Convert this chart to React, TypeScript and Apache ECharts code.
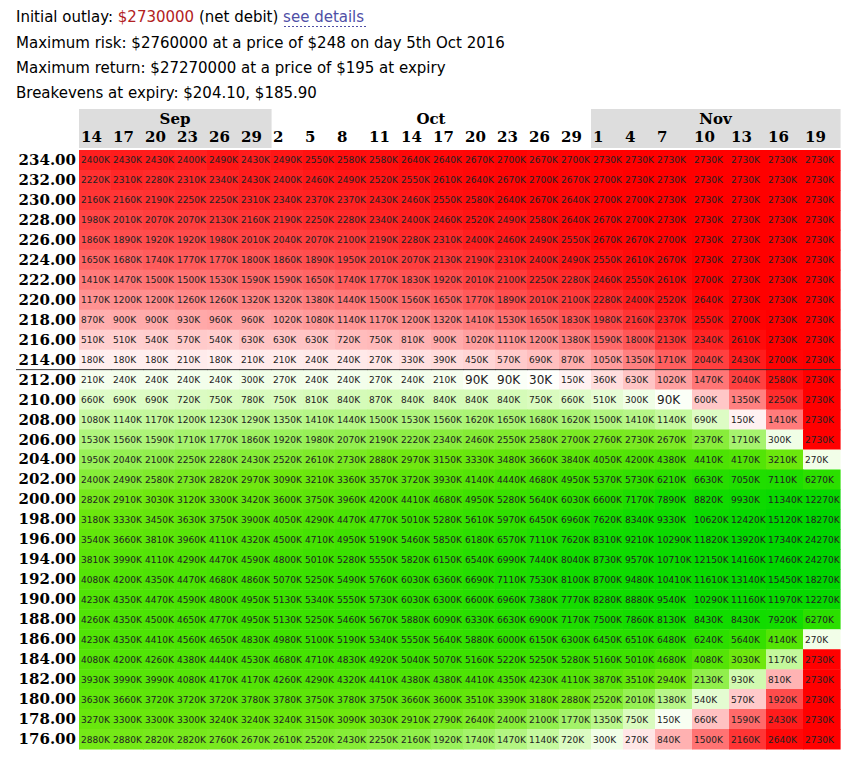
import React, { useEffect, useRef } from "react";
import * as echarts from "echarts";

// ---------- data ----------
const STRIKES = [
  "234.00", "232.00", "230.00", "228.00", "226.00", "224.00", "222.00", "220.00", "218.00", "216.00",
  "214.00", "212.00", "210.00", "208.00", "206.00", "204.00", "202.00", "200.00", "198.00", "196.00",
  "194.00", "192.00", "190.00", "188.00", "186.00", "184.00", "182.00", "180.00", "178.00", "176.00",
];
const DAYS = ["14", "17", "20", "23", "26", "29", "2", "5", "8", "11", "14", "17", "20", "23", "26", "29", "1", "4", "7", "10", "13", "16", "19"];
const MONTHS = ["Sep", "Oct", "Nov"];
const MONTH_DAY_COUNTS = [6, 10, 7];
const SHADED_MONTHS = ["Sep", "Nov"];
const CURRENT_PRICE_ROW = "212.00";

const INITIAL_OUTLAY = "$2730000";
const LINE_RISK = "Maximum risk: $2760000 at a price of $248 on day 5th Oct 2016";
const LINE_RETURN = "Maximum return: $27270000 at a price of $195 at expiry";
const LINE_BREAKEVEN = "Breakevens at expiry: $204.10, $185.90";
const MAX_LOSS_K = 2730;

// profit / loss in $K (negative = loss)
const r234 = [-2400, -2430, -2430, -2400, -2490, -2430, -2490, -2550, -2580, -2580, -2640, -2640, -2670, -2700, -2670, -2700, -2730, -2730, -2730, -2730, -2730, -2730, -2730];
const r232 = [-2220, -2310, -2280, -2310, -2340, -2430, -2400, -2460, -2490, -2520, -2550, -2610, -2640, -2670, -2700, -2670, -2700, -2730, -2730, -2730, -2730, -2730, -2730];
const r230 = [-2160, -2160, -2190, -2250, -2250, -2310, -2340, -2370, -2370, -2430, -2460, -2550, -2580, -2640, -2670, -2640, -2700, -2700, -2730, -2730, -2730, -2730, -2730];
const r228 = [-1980, -2010, -2070, -2070, -2130, -2160, -2190, -2250, -2280, -2340, -2400, -2460, -2520, -2490, -2580, -2640, -2670, -2700, -2730, -2730, -2730, -2730, -2730];
const r226 = [-1860, -1890, -1920, -1920, -1980, -2010, -2040, -2070, -2100, -2190, -2280, -2310, -2400, -2460, -2490, -2550, -2670, -2670, -2700, -2730, -2730, -2730, -2730];
const r224 = [-1650, -1680, -1740, -1770, -1770, -1800, -1860, -1890, -1950, -2010, -2070, -2130, -2190, -2310, -2400, -2490, -2550, -2610, -2670, -2730, -2730, -2730, -2730];
const r222 = [-1410, -1470, -1500, -1500, -1530, -1590, -1590, -1650, -1740, -1770, -1830, -1920, -2010, -2100, -2250, -2280, -2460, -2550, -2610, -2700, -2730, -2730, -2730];
const r220 = [-1170, -1200, -1200, -1260, -1260, -1320, -1320, -1380, -1440, -1500, -1560, -1650, -1770, -1890, -2010, -2100, -2280, -2400, -2520, -2640, -2730, -2730, -2730];
const r218 = [-870, -900, -900, -930, -960, -960, -1020, -1080, -1140, -1170, -1200, -1320, -1410, -1530, -1650, -1830, -1980, -2160, -2370, -2550, -2700, -2730, -2730];
const r216 = [-510, -510, -540, -570, -540, -630, -630, -630, -720, -750, -810, -900, -1020, -1110, -1200, -1380, -1590, -1800, -2130, -2340, -2610, -2730, -2730];
const r214 = [-180, -180, -180, -210, -180, -210, -210, -240, -240, -270, -330, -390, -450, -570, -690, -870, -1050, -1350, -1710, -2040, -2430, -2700, -2730];
const r212 = [210, 240, 240, 240, 240, 300, 270, 240, 240, 270, 240, 210, 90, 90, 30, -150, -360, -630, -1020, -1470, -2040, -2580, -2730];
const r210 = [660, 690, 690, 720, 750, 780, 750, 810, 840, 870, 840, 840, 840, 840, 750, 660, 510, 300, 90, -600, -1350, -2250, -2730];
const r208 = [1080, 1140, 1170, 1200, 1230, 1290, 1350, 1410, 1440, 1500, 1530, 1560, 1620, 1650, 1680, 1620, 1500, 1410, 1140, 690, -150, -1410, -2730];
const r206 = [1530, 1560, 1590, 1710, 1770, 1860, 1920, 1980, 2070, 2190, 2220, 2340, 2460, 2550, 2580, 2700, 2760, 2730, 2670, 2370, 1710, 300, -2730];
const r204 = [1950, 2040, 2100, 2250, 2280, 2430, 2520, 2610, 2730, 2880, 2970, 3150, 3330, 3480, 3660, 3840, 4050, 4200, 4380, 4410, 4170, 3210, 270];
const r202 = [2400, 2490, 2580, 2730, 2820, 2970, 3090, 3210, 3360, 3570, 3720, 3930, 4140, 4440, 4680, 4950, 5370, 5730, 6210, 6630, 7050, 7110, 6270];
const r200 = [2820, 2910, 3030, 3120, 3300, 3420, 3600, 3750, 3960, 4200, 4410, 4680, 4950, 5280, 5640, 6030, 6600, 7170, 7890, 8820, 9930, 11340, 12270];
const r198 = [3180, 3330, 3450, 3630, 3750, 3900, 4050, 4290, 4470, 4770, 5010, 5280, 5610, 5970, 6450, 6960, 7620, 8340, 9330, 10620, 12420, 15120, 18270];
const r196 = [3540, 3660, 3810, 3960, 4110, 4320, 4500, 4710, 4950, 5190, 5460, 5850, 6180, 6570, 7110, 7620, 8310, 9210, 10290, 11820, 13920, 17340, 24270];
const r194 = [3810, 3990, 4110, 4290, 4470, 4590, 4800, 5010, 5280, 5550, 5820, 6150, 6540, 6990, 7440, 8040, 8730, 9570, 10710, 12150, 14160, 17460, 24270];
const r192 = [4080, 4200, 4350, 4470, 4680, 4860, 5070, 5250, 5490, 5760, 6030, 6360, 6690, 7110, 7530, 8100, 8700, 9480, 10410, 11610, 13140, 15450, 18270];
const r190 = [4230, 4350, 4470, 4590, 4800, 4950, 5130, 5340, 5550, 5730, 6030, 6300, 6600, 6960, 7380, 7770, 8280, 8880, 9540, 10290, 11160, 11970, 12270];
const r188 = [4260, 4350, 4500, 4650, 4770, 4950, 5130, 5250, 5460, 5670, 5880, 6090, 6330, 6630, 6900, 7170, 7500, 7860, 8130, 8430, 8430, 7920, 6270];
const r186 = [4230, 4350, 4410, 4560, 4650, 4830, 4980, 5100, 5190, 5340, 5550, 5640, 5880, 6000, 6150, 6300, 6450, 6510, 6480, 6240, 5640, 4140, 270];
const r184 = [4080, 4200, 4260, 4380, 4440, 4530, 4680, 4710, 4830, 4920, 5040, 5070, 5160, 5220, 5250, 5280, 5160, 5010, 4680, 4080, 3030, 1170, -2730];
const r182 = [3930, 3990, 3990, 4080, 4170, 4170, 4260, 4290, 4320, 4410, 4380, 4380, 4410, 4350, 4230, 4110, 3870, 3510, 2940, 2130, 930, -810, -2730];
const r180 = [3630, 3660, 3720, 3720, 3720, 3780, 3780, 3750, 3780, 3750, 3660, 3600, 3510, 3390, 3180, 2880, 2520, 2010, 1380, 540, -570, -1920, -2730];
const r178 = [3270, 3300, 3300, 3300, 3240, 3240, 3240, 3150, 3090, 3030, 2910, 2790, 2640, 2400, 2100, 1770, 1350, 750, 150, -660, -1590, -2430, -2730];
const r176 = [2880, 2880, 2820, 2820, 2760, 2670, 2610, 2520, 2430, 2250, 2160, 1920, 1740, 1470, 1140, 720, 300, -270, -840, -1500, -2160, -2640, -2730];

const PNL_ROWS = [
  r234, r232, r230, r228, r226, r224, r222, r220, r218, r216,
  r214, r212, r210, r208, r206, r204, r202, r200, r198, r196,
  r194, r192, r190, r188, r186, r184, r182, r180, r178, r176,
];

// ---------- layout / style ----------
const COL_WIDTHS = [32, 32, 32, 32, 32, 32, 32, 32, 32, 32, 32, 32, 32, 32, 32, 32, 32, 32, 37, 37, 37, 37, 37];
const COL_EDGES: number[] = [0];
COL_WIDTHS.forEach((w, i) => COL_EDGES.push(COL_EDGES[i] + w));
const TOTAL_W = COL_EDGES[COL_EDGES.length - 1];

const PROFIT_STOPS: [number, number[]][] = [
  [0, [255, 255, 255]],
  [1000, [205, 250, 170]],
  [2000, [150, 240, 85]],
  [3000, [112, 232, 15]],
  [5000, [62, 225, 0]],
  [8000, [18, 220, 0]],
  [15000, [0, 214, 0]],
];

function cellColor(v: number): string {
  if (v < 0) {
    const t = Math.min(1, -v / MAX_LOSS_K);
    const c = Math.round(255 * (1 - t));
    return `rgb(255,${c},${c})`;
  }
  for (let i = 1; i < PROFIT_STOPS.length; i++) {
    const [v1, c1] = PROFIT_STOPS[i];
    const [v0, c0] = PROFIT_STOPS[i - 1];
    if (v <= v1) {
      const t = (v - v0) / (v1 - v0);
      const c = c0.map((a, k) => Math.round(a + (c1[k] - a) * t));
      return `rgb(${c[0]},${c[1]},${c[2]})`;
    }
  }
  const last = PROFIT_STOPS[PROFIT_STOPS.length - 1][1];
  return `rgb(${last[0]},${last[1]},${last[2]})`;
}

const cellData: number[][] = [];
PNL_ROWS.forEach((row, r) => row.forEach((v, c) => cellData.push([c, r, v])));

const headerData: number[][] = [];
MONTH_DAY_COUNTS.forEach((n, m) => {
  for (let k = 0; k < n; k++) headerData.push([headerData.length, 0, m]);
});

const monthStart: number[] = [];
MONTH_DAY_COUNTS.reduce((acc, n) => {
  monthStart.push(acc);
  return acc + n;
}, 0);

const SERIF = "DejaVu Serif";
const SANS = "DejaVu Sans";
const lineRowIndex = STRIKES.indexOf(CURRENT_PRICE_ROW);

const option: any = {
  animation: false,
  backgroundColor: "#ffffff",
  grid: { left: 79, top: 150, width: TOTAL_W, height: 599 },
  xAxis: { type: "value", min: 0, max: TOTAL_W, show: false },
  yAxis: {
    type: "category",
    data: STRIKES,
    inverse: true,
    axisLine: { show: false },
    axisTick: { show: false },
    splitLine: { show: false },
    axisLabel: { color: "#000", fontFamily: SERIF, fontWeight: "bold", fontSize: 15, margin: 3 },
  },
  series: [
    {
      type: "custom",
      name: "pnl",
      data: cellData,
      encode: { x: 0, y: 1 },
      renderItem: (params: any, api: any) => {
        const c = api.value(0);
        const r = api.value(1);
        const v = api.value(2);
        const p0 = api.coord([COL_EDGES[c], r]);
        const p1 = api.coord([COL_EDGES[c + 1], r]);
        const h = api.size([0, 1])[1];
        const x0 = p0[0];
        const x1 = p1[0];
        const yc = p0[1];
        const abs = Math.abs(v);
        const children: any[] = [
          {
            type: "rect",
            shape: { x: x0, y: yc - h / 2, width: x1 - x0 + 0.6, height: h + 0.6 },
            style: { fill: cellColor(v) },
          },
          {
            type: "text",
            style: {
              text: abs + "K",
              x: x0 + 2,
              y: yc + 0.5,
              align: "left",
              verticalAlign: "middle",
              fill: "#222",
              fontFamily: SANS,
              fontSize: abs < 100 ? 12 : 9,
            },
          },
        ];
        if (r === lineRowIndex) {
          children.push({
            type: "line",
            z2: 10,
            shape: { x1: c === 0 ? 16 : x0, y1: yc - h / 2, x2: x1 + 0.6, y2: yc - h / 2 },
            style: { stroke: "#333", lineWidth: 1 },
          });
        }
        return { type: "group", children };
      },
    },
    {
      type: "custom",
      name: "days",
      data: headerData,
      encode: { x: 0, y: 1 },
      renderItem: (params: any, api: any) => {
        const c = api.value(0);
        const m = api.value(2);
        const x0 = api.coord([COL_EDGES[c], 0])[0];
        const x1 = api.coord([COL_EDGES[c + 1], 0])[0];
        const top = params.coordSys.y;
        const children: any[] = [];
        if (SHADED_MONTHS.indexOf(MONTHS[m]) >= 0) {
          children.push({
            type: "rect",
            shape: { x: x0, y: top - 41, width: x1 - x0 + 0.6, height: 39 },
            style: { fill: "#dddddd" },
          });
        }
        children.push({
          type: "text",
          style: {
            text: DAYS[c],
            x: x0 + 2,
            y: top - 13,
            align: "left",
            verticalAlign: "middle",
            fill: "#000",
            fontFamily: SERIF,
            fontWeight: "bold",
            fontSize: 15,
          },
        });
        return { type: "group", children };
      },
    },
    {
      type: "custom",
      name: "months",
      data: MONTHS.map((_, m) => [m, 0]),
      encode: { x: 0, y: 1 },
      z: 3,
      renderItem: (params: any, api: any) => {
        const m = api.value(0);
        const s = monthStart[m];
        const e = s + MONTH_DAY_COUNTS[m];
        const x0 = api.coord([COL_EDGES[s], 0])[0];
        const x1 = api.coord([COL_EDGES[e], 0])[0];
        const top = params.coordSys.y;
        return {
          type: "text",
          style: {
            text: MONTHS[m],
            x: (x0 + x1) / 2,
            y: top - 31,
            align: "center",
            verticalAlign: "middle",
            fill: "#000",
            fontFamily: SERIF,
            fontWeight: "bold",
            fontSize: 15,
          },
        };
      },
    },
  ],
  graphic: [
    {
      type: "text",
      x: 16,
      y: 17,
      style: {
        text: "{n|Initial outlay: }{r|" + INITIAL_OUTLAY + "}{n| (net debit) }{l|see details}",
        verticalAlign: "middle",
        rich: {
          n: { fill: "#000", fontFamily: SANS, fontSize: 15 },
          r: { fill: "#b22222", fontFamily: SANS, fontSize: 15 },
          l: { fill: "#4f4fa6", fontFamily: SANS, fontSize: 15 },
        },
      },
    },
    {
      type: "line",
      shape: { x1: 284, y1: 26.5, x2: 366, y2: 26.5 },
      style: { stroke: "#4f4fa6", lineWidth: 1, lineDash: [2, 2] },
    },
    {
      type: "text",
      x: 16,
      y: 42.5,
      style: { text: LINE_RISK, fill: "#000", fontFamily: SANS, fontSize: 15, verticalAlign: "middle" },
    },
    {
      type: "text",
      x: 16,
      y: 68,
      style: { text: LINE_RETURN, fill: "#000", fontFamily: SANS, fontSize: 15, verticalAlign: "middle" },
    },
    {
      type: "text",
      x: 16,
      y: 93,
      style: { text: LINE_BREAKEVEN, fill: "#000", fontFamily: SANS, fontSize: 15, verticalAlign: "middle" },
    },
  ],
};

export default function App() {
  const ref = useRef<HTMLDivElement>(null);
  useEffect(() => {
    const chart = echarts.init(ref.current as HTMLDivElement, null, { renderer: "svg" });
    chart.setOption(option);
    return () => chart.dispose();
  }, []);
  return (
    <div
      ref={ref}
      style={{ position: "absolute", left: 0, top: 0, width: 854, height: 761, background: "#fff" }}
    />
  );
}
